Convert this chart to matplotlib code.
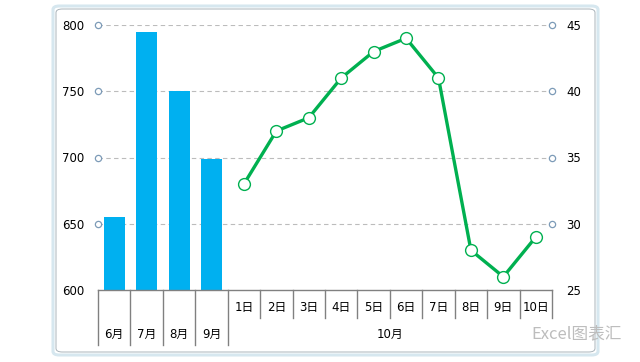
import matplotlib
matplotlib.use("Agg")
import matplotlib.pyplot as plt
from matplotlib.patches import FancyBboxPatch
import matplotlib.transforms as mtransforms

plt.rcParams['font.family'] = ['DejaVu Sans', 'Noto Sans CJK SC']

months = ["6月", "7月", "8月", "9月"]
month_values = [655, 795, 750, 699]
days = ["1日", "2日", "3日", "4日", "5日", "6日", "7日", "8日", "9日", "10日"]
day_values = [33, 37, 38, 41, 43, 44, 41, 28, 26, 29]
day_group = "10月"
left_ticks = [600, 650, 700, 750, 800]
right_ticks = [25, 30, 35, 40, 45]

bar_color = "#00B0F0"
line_color = "#00B050"

fig = plt.figure(figsize=(6.4, 3.62), dpi=100)
W, H = 640, 362
ax = fig.add_axes([98 / W, 1 - 290 / H, (552 - 98) / W, (290 - 25) / H])

n = len(months) + len(days)
xm = list(range(len(months)))
xd = list(range(len(months), n))

ax.bar(xm, month_values, width=0.65, color=bar_color, zorder=2)
ax.set_xlim(-0.5, n - 0.5)
ax.set_ylim(left_ticks[0], left_ticks[-1])
ax.set_yticks(left_ticks)
ax.tick_params(axis='y', length=0, pad=10, labelsize=8.5)
ax.set_xticks([])
for s in ["left", "right", "top"]:
    ax.spines[s].set_visible(False)
ax.spines["bottom"].set_color("#808080")
ax.spines["bottom"].set_linewidth(1)
for v in left_ticks[1:]:
    ax.axhline(v, color="#bcbcbc", lw=0.8, ls=(0, (4, 3)), zorder=1)

ax2 = ax.twinx()
ax2.set_ylim(right_ticks[0], right_ticks[-1])
ax2.set_yticks(right_ticks)
ax2.tick_params(axis='y', length=0, pad=10, labelsize=8.5)
for s in ["left", "right", "top", "bottom"]:
    ax2.spines[s].set_visible(False)
ax2.plot(xd, day_values, color=line_color, lw=2.4, marker="o", ms=8.5,
         mfc="white", mec=line_color, mew=1.0, zorder=3, clip_on=False)

# axis end circles
tl = mtransforms.blended_transform_factory(ax.transAxes, ax.transData)
ax.plot([0] * (len(left_ticks) - 1), left_ticks[1:], "o", ms=4.5, mfc="white",
        mec="#7d9bb8", mew=0.9, transform=tl, clip_on=False, zorder=4)
tr = mtransforms.blended_transform_factory(ax2.transAxes, ax2.transData)
ax2.plot([1] * (len(right_ticks) - 1), right_ticks[1:], "o", ms=4.5, mfc="white",
         mec="#7d9bb8", mew=0.9, transform=tr, clip_on=False, zorder=4)

# category table
tb = mtransforms.blended_transform_factory(ax.transData, ax.transAxes)
y_short = -28 / 265
y_long = -55 / 265
for i in range(len(months) + 1):
    ax.plot([i - 0.5, i - 0.5], [0, y_long], color="#808080", lw=1,
            transform=tb, clip_on=False)
for i in range(len(months) + 1, n + 1):
    ax.plot([i - 0.5, i - 0.5], [0, y_short], color="#808080", lw=1,
            transform=tb, clip_on=False)
for x, lab in zip(xd, days):
    ax.text(x, -17 / 265, lab, transform=tb, ha="center", va="center", fontsize=8.5)
for x, lab in zip(xm, months):
    ax.text(x, -44 / 265, lab, transform=tb, ha="center", va="center", fontsize=8.5)
ax.text((xd[0] + xd[-1]) / 2, -44 / 265, day_group, transform=tb,
        ha="center", va="center", fontsize=8.5)

# chart frame
frame = FancyBboxPatch((53 / W, 1 - 355 / H), (598 - 53) / W, (355 - 6) / H,
                       boxstyle="round,pad=0,rounding_size=0.01",
                       transform=fig.transFigure, fill=False,
                       ec="#d6e7ef", lw=2.2, zorder=0)
fig.patches.append(frame)
frame2 = FancyBboxPatch((56 / W, 1 - 352 / H), (595 - 56) / W, (352 - 9) / H,
                        boxstyle="round,pad=0,rounding_size=0.01",
                        transform=fig.transFigure, fill=False,
                        ec="#a9b3ba", lw=0.7, zorder=0)
fig.patches.append(frame2)

fig.text(577 / W, 1 - 334 / H, "Excel图表汇", ha="center", va="center",
         fontsize=12, color="#bdbdbd",
         family=['Noto Sans CJK SC', 'DejaVu Sans'])

fig.savefig("out.png", dpi=100)
